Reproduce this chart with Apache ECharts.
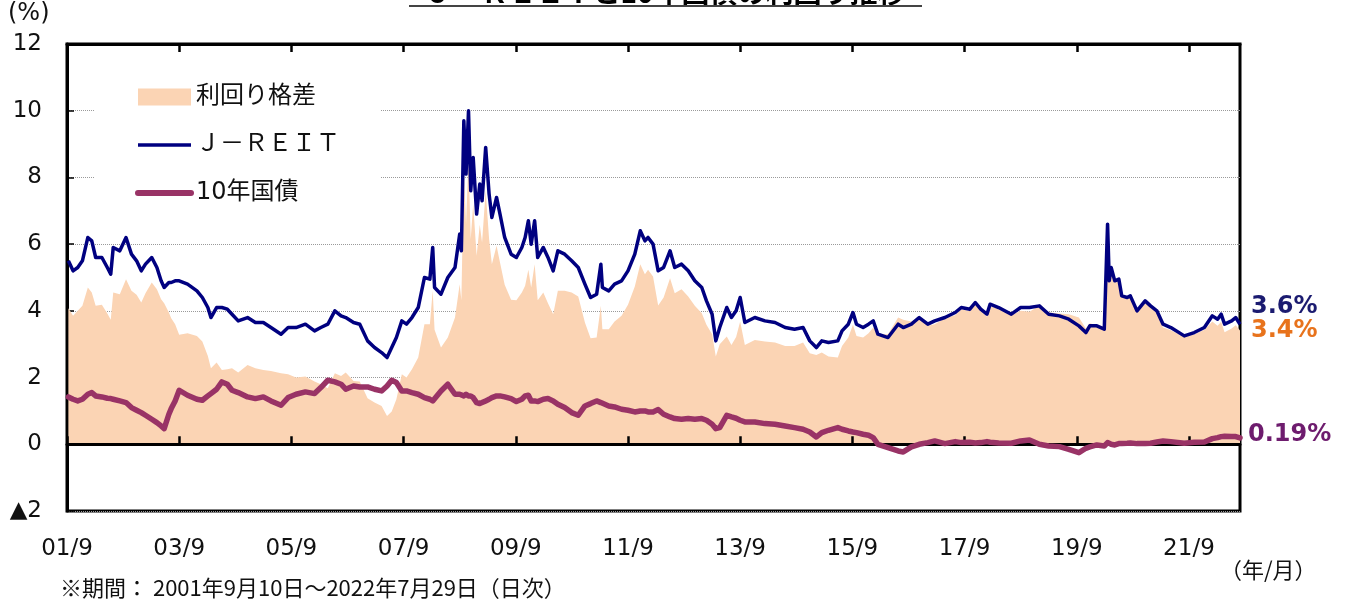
<!DOCTYPE html>
<html><head><meta charset="utf-8">
<script src="https://cdn.jsdelivr.net/npm/echarts@6/dist/echarts.min.js"></script>
<style>html,body{margin:0;padding:0;background:#fff}#c{width:1346px;height:603px}</style>
</head><body><div id="c"></div>
<script>
// ---- data ----
const dates = [
'2001-09-10','2001-10-10','2001-11-10','2001-12-10','2002-01-15','2002-02-10','2002-03-05','2002-04-15','2002-05-20','2002-06-12',
'2002-06-28','2002-08-10','2002-09-20','2002-10-25','2002-11-28','2002-12-28','2003-01-25','2003-03-05','2003-04-08','2003-05-05',
'2003-05-25','2003-06-25','2003-07-10','2003-08-05','2003-09-01','2003-10-25','2003-12-25','2004-01-30','2004-03-05','2004-03-25',
'2004-05-01','2004-06-05','2004-07-10','2004-08-10','2004-09-20','2004-11-20','2005-01-10','2005-03-01','2005-04-20','2005-06-25',
'2005-08-10','2005-10-01','2005-12-01','2006-01-30','2006-03-10','2006-04-25','2006-06-10','2006-07-20','2006-08-20','2006-10-10',
'2006-11-20','2007-01-10','2007-02-25','2007-04-10','2007-05-15','2007-06-15','2007-07-15','2007-08-20','2007-09-20','2007-10-25',
'2007-12-05','2008-01-15','2008-02-20','2008-03-08','2008-03-20','2008-05-01','2008-06-15','2008-08-01','2008-09-01','2008-09-12',
'2008-09-28','2008-10-12','2008-10-28','2008-11-12','2008-11-28','2008-12-20','2009-01-10','2009-01-25','2009-02-18','2009-03-10',
'2009-03-28','2009-04-28','2009-05-20','2009-06-20','2009-08-01','2009-09-05','2009-10-10','2009-11-01','2009-11-22','2009-12-10',
'2010-01-02','2010-01-22','2010-02-28','2010-03-28','2010-05-01','2010-06-01','2010-07-15','2010-08-30','2010-10-12','2010-11-25',
'2011-01-01','2011-02-10','2011-03-07','2011-03-17','2011-04-28','2011-06-05','2011-07-20','2011-09-01','2011-10-15','2011-11-20',
'2011-12-20','2012-01-10','2012-02-12','2012-03-15','2012-04-20','2012-06-01','2012-07-01','2012-08-15','2012-09-28','2012-11-10',
'2012-12-25','2013-01-25','2013-03-01','2013-03-25','2013-04-20','2013-06-05','2013-07-05','2013-08-05','2013-09-01','2013-10-01',
'2013-12-05','2014-02-10','2014-04-15','2014-06-20','2014-08-20','2014-10-15','2014-11-28','2015-01-10','2015-02-15','2015-03-28',
'2015-05-28','2015-06-25','2015-08-05','2015-09-05','2015-09-28','2015-11-10','2015-12-15','2016-01-15','2016-02-15','2016-04-20',
'2016-06-25','2016-07-28','2016-09-20','2016-11-10','2017-01-05','2017-02-20','2017-04-25','2017-07-01','2017-08-10','2017-10-05',
'2017-11-10','2017-12-15','2018-01-25','2018-02-15','2018-04-10','2018-07-01','2018-09-01','2018-10-28','2019-01-01','2019-03-01',
'2019-05-10','2019-07-10','2019-09-15','2019-10-30','2019-11-25','2020-01-10','2020-02-28','2020-03-19','2020-03-30','2020-04-12',
'2020-05-05','2020-06-01','2020-06-20','2020-07-25','2020-08-15','2020-09-28','2020-11-20','2020-12-25','2021-02-05','2021-03-15',
'2021-05-05','2021-08-01','2021-10-05','2021-12-10','2022-02-01','2022-03-05','2022-03-28','2022-04-20','2022-06-05','2022-07-01',
'2022-07-29'];

const jreit = [
5.5,5.2,5.3,5.5,6.2,6.1,5.6,5.6,5.3,5.1,
5.9,5.8,6.2,5.7,5.5,5.2,5.4,5.6,5.3,4.9,
4.7,4.85,4.85,4.9,4.9,4.8,4.6,4.4,4.1,3.8,
4.1,4.1,4.05,3.9,3.7,3.8,3.65,3.65,3.5,3.3,
3.5,3.5,3.6,3.4,3.5,3.6,4.0,3.85,3.8,3.65,
3.6,3.1,2.9,2.75,2.6,2.9,3.2,3.7,3.6,3.8,
4.1,5.0,4.95,5.9,4.7,4.5,5.0,5.3,6.3,5.8,
9.7,8.1,10.0,7.6,8.6,6.9,7.8,7.3,8.9,7.5,
6.8,7.4,6.9,6.2,5.7,5.6,5.9,6.2,6.7,6.0,
6.7,5.6,5.9,5.6,5.2,5.8,5.7,5.5,5.3,4.8,
4.4,4.5,5.4,4.7,4.6,4.8,4.9,5.2,5.7,6.4,
6.1,6.2,6.0,5.2,5.3,5.8,5.3,5.4,5.2,4.9,
4.7,4.3,3.9,3.1,3.5,4.1,3.8,4.0,4.4,3.65,
3.8,3.7,3.65,3.5,3.45,3.5,3.1,2.9,3.1,3.05,
3.1,3.4,3.6,3.95,3.6,3.5,3.6,3.7,3.3,3.2,
3.6,3.5,3.6,3.8,3.6,3.7,3.8,3.95,4.1,4.05,
4.25,4.05,3.9,4.2,4.1,3.9,4.1,4.1,4.15,3.9,
3.85,3.75,3.55,3.35,3.55,3.55,3.45,6.6,4.9,5.3,
4.9,4.95,4.45,4.4,4.45,4.0,4.3,4.15,4.0,3.6,
3.5,3.25,3.35,3.5,3.85,3.75,3.9,3.6,3.7,3.8,
3.6];

const jgb = [
1.42,1.35,1.30,1.35,1.50,1.55,1.45,1.42,1.38,1.37,
1.35,1.30,1.25,1.10,1.02,0.95,0.87,0.75,0.65,0.55,
0.47,0.90,1.07,1.30,1.62,1.47,1.35,1.32,1.45,1.52,
1.65,1.87,1.80,1.62,1.55,1.42,1.37,1.42,1.30,1.17,
1.40,1.50,1.57,1.52,1.70,1.92,1.87,1.80,1.65,1.75,
1.72,1.72,1.65,1.60,1.75,1.92,1.85,1.60,1.60,1.55,
1.50,1.40,1.35,1.30,1.27,1.60,1.80,1.50,1.50,1.48,
1.45,1.50,1.45,1.45,1.40,1.25,1.22,1.25,1.30,1.35,
1.40,1.45,1.45,1.42,1.37,1.28,1.35,1.45,1.47,1.30,
1.30,1.28,1.35,1.37,1.30,1.20,1.10,0.95,0.87,1.15,
1.22,1.30,1.25,1.25,1.15,1.12,1.05,1.02,0.97,1.00,
1.00,0.97,0.97,1.04,0.90,0.82,0.77,0.75,0.77,0.75,
0.77,0.72,0.60,0.47,0.50,0.87,0.82,0.78,0.72,0.67,
0.67,0.62,0.60,0.55,0.50,0.45,0.37,0.22,0.35,0.42,
0.50,0.45,0.40,0.37,0.35,0.30,0.27,0.20,0.00,-0.10,
-0.20,-0.23,-0.08,0.00,0.05,0.10,0.02,0.08,0.05,0.06,
0.04,0.05,0.08,0.06,0.04,0.03,0.10,0.13,0.00,-0.05,
-0.07,-0.15,-0.25,-0.12,-0.08,-0.02,-0.05,0.05,0.02,0.00,
-0.02,0.02,0.02,0.03,0.04,0.02,0.02,0.03,0.07,0.10,
0.08,0.03,0.06,0.07,0.17,0.20,0.23,0.24,0.23,0.23,
0.19];

const tickLabels = ['01/9','03/9','05/9','07/9','09/9','11/9','13/9','15/9','17/9','19/9','21/9'];
const seriesNames = ['利回り格差', 'Ｊ－ＲＥＩＴ', '10年国債'];

// ---- helpers ----
function toYear(s) { const p = s.split('-').map(Number); return p[0] + (p[1] - 1) / 12 + ((p[2] || 1) - 1) / 365; }
const tickPos = tickLabels.map(t => { const p = t.split('/'); return 2000 + Number(p[0]) + (Number(p[1]) - 1) / 12; });
const xs = dates.map(toYear);
const xMin = tickPos[0];
const xMax = xs[xs.length - 1];
// yield spread = J-REIT yield minus 10y JGB yield
const spread = jreit.map((v, i) => Math.round((v - jgb[i]) * 100) / 100);
const pair = arr => arr.map((v, i) => [xs[i], v]);

const FONT = 'Verdana, "DejaVu Sans", "Noto Sans CJK JP", sans-serif';
const JP = '"Noto Sans CJK JP", sans-serif';

const chart = echarts.init(document.getElementById('c'), null, {renderer: 'canvas'});
const gridBox = {left: 67, right: 106, top: 44, bottom: 92};

const option = {
  animation: false,
  textStyle: {fontFamily: FONT},
  grid: [
    Object.assign({show: true, borderColor: '#000', borderWidth: 3, backgroundColor: 'transparent'}, gridBox),
    Object.assign({show: false}, gridBox)
  ],
  xAxis: [
    {gridIndex: 0, type: 'value', min: xMin, max: xMax, position: 'bottom', z: 2,
     axisLine: {onZero: true, lineStyle: {color: '#000', width: 3}},
     axisTick: {show: true, inside: true, length: 8, lineStyle: {color: '#000', width: 2.5}, customValues: tickPos},
     axisLabel: {show: false}, splitLine: {show: false}},
    {gridIndex: 0, type: 'value', min: xMin, max: xMax, position: 'top', z: 2,
     axisLine: {onZero: true, lineStyle: {color: '#000', width: 3}},
     axisTick: {show: true, inside: true, length: 8, lineStyle: {color: '#000', width: 2.5}, customValues: tickPos},
     axisLabel: {show: false}, splitLine: {show: false}},
    {gridIndex: 1, type: 'value', min: xMin, max: xMax, position: 'bottom',
     axisLine: {show: false}, axisTick: {show: false}, splitLine: {show: false},
     axisLabel: {show: true, customValues: tickPos, margin: 27, fontSize: 23, color: '#111', fontFamily: FONT,
       formatter: v => { const i = tickPos.findIndex(p => Math.abs(p - v) < 1e-6); return i >= 0 ? tickLabels[i] : ''; }}}
  ],
  yAxis: [
    {gridIndex: 0, type: 'value', min: -2, max: 12, interval: 2,
     axisLine: {show: true, onZero: false, lineStyle: {color: '#000', width: 3}},
     axisTick: {show: true, inside: true, length: 7, lineStyle: {color: '#000', width: 1.5}},
     axisLabel: {fontSize: 23, margin: 25, color: '#111', fontFamily: FONT,
       formatter: v => v < 0 ? '▲' + (-v) : String(v)},
     splitLine: {show: true, lineStyle: {color: '#9a9a9a', type: 'dotted', width: 1}}},
    {gridIndex: 1, type: 'value', min: -2, max: 12, show: false}
  ],
  legend: {
    orient: 'vertical', left: 95, top: 62, padding: [23, 40, 20, 40],
    itemWidth: 53, itemHeight: 17, itemGap: 24, backgroundColor: '#fff',
    textStyle: {fontSize: 24, color: '#111', fontFamily: FONT},
    data: [
      {name: seriesNames[0], icon: 'rect'},
      {name: seriesNames[1], itemStyle: {opacity: 0}, lineStyle: {width: 3.5, color: '#000080'}},
      {name: seriesNames[2], itemStyle: {opacity: 0}, lineStyle: {width: 6, color: '#993366', cap: 'round'}}
    ]
  },
  series: [
    {name: seriesNames[0], type: 'line', xAxisIndex: 0, yAxisIndex: 0, data: pair(spread), z: 1,
     symbol: 'none', silent: true, color: '#FBD4B4',
     lineStyle: {width: 0, color: '#FBD4B4'}, areaStyle: {color: '#FBD4B4', opacity: 1},
     endLabel: {show: true, formatter: p => p.value[1].toFixed(1) + '%', color: '#E8731C',
       fontSize: 24, fontWeight: 'bold', fontFamily: FONT, distance: 11, offset: [0, 0]}},
    {name: seriesNames[1], type: 'line', xAxisIndex: 0, yAxisIndex: 0, data: pair(jreit), z: 3,
     symbol: 'none', silent: true, color: '#000080',
     lineStyle: {width: 3.5, color: '#000080', join: 'round'},
     endLabel: {show: true, formatter: p => p.value[1].toFixed(1) + '%', color: '#1B1B70',
       fontSize: 24, fontWeight: 'bold', fontFamily: FONT, distance: 11, offset: [0, -17]}},
    {name: seriesNames[2], type: 'line', xAxisIndex: 0, yAxisIndex: 0, data: pair(jgb), z: 3,
     symbol: 'none', silent: true, color: '#993366',
     lineStyle: {width: 5.5, color: '#993366', cap: 'round', join: 'round'},
     endLabel: {show: true, formatter: p => p.value[1].toFixed(2) + '%', color: '#6E1C6E',
       fontSize: 24, fontWeight: 'bold', fontFamily: FONT, distance: 8, offset: [0, -3]}}
  ],
  graphic: [
    {type: 'text', x: 665, y: 6, z: 10,
     style: {text: 'Ｊ－ＲＥＩＴと10年国債の利回り推移', font: 'bold 28px ' + JP, fill: '#000',
       textAlign: 'center', textVerticalAlign: 'bottom'}},
    {type: 'line', z: 10, shape: {x1: 409, y1: 6, x2: 922, y2: 6}, style: {stroke: '#444', lineWidth: 2}},
    {type: 'text', x: 8, y: 14, style: {text: '(%)', font: '24px ' + FONT, fill: '#111', textVerticalAlign: 'middle'}},
    {type: 'text', x: 1220, y: 570, style: {text: '（年/月）', font: '22px ' + JP, fill: '#111', textVerticalAlign: 'middle'}},
    {type: 'text', x: 60, y: 588, style: {text: '※期間： 2001年9月10日～2022年7月29日（日次）', font: '22px ' + JP, fill: '#111', textVerticalAlign: 'middle'}}
  ]
};
chart.setOption(option);
</script>
</body></html>
